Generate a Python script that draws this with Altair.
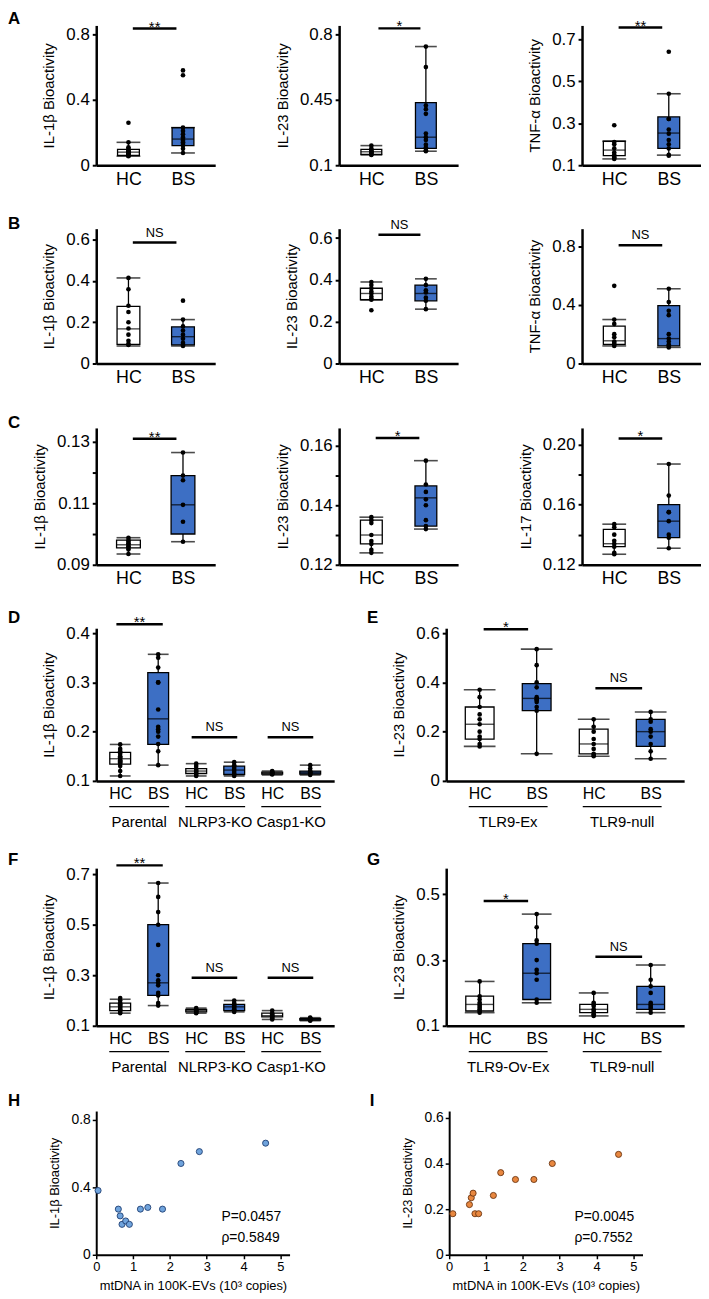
import json
import altair as alt
import pandas as pd

FONT = "Liberation Sans"
BLUE = "#3d6fc4"
WHITE = "#ffffff"

# box = [lower whisker, Q1, median, Q3, upper whisker]
# ---------------- Panel A ----------------
A1_HC_box = [0.055, 0.060, 0.080, 0.097, 0.140]
A1_HC_pts = [0.26, 0.14, 0.11, 0.10, 0.09, 0.085, 0.08, 0.075, 0.07, 0.065, 0.06, 0.058, 0.055]
A1_BS_box = [0.075, 0.120, 0.160, 0.230, 0.230]
A1_BS_pts = [0.58, 0.55, 0.23, 0.21, 0.19, 0.17, 0.16, 0.15, 0.14, 0.13, 0.12, 0.10, 0.075]

A2_HC_box = [0.155, 0.158, 0.172, 0.185, 0.205]
A2_HC_pts = [0.205, 0.19, 0.18, 0.175, 0.17, 0.165, 0.16, 0.158, 0.155]
A2_BS_box = [0.175, 0.190, 0.250, 0.435, 0.735]
A2_BS_pts = [0.735, 0.625, 0.42, 0.40, 0.375, 0.27, 0.25, 0.235, 0.21, 0.195, 0.18, 0.175]

A3_HC_box = [0.130, 0.146, 0.172, 0.214, 0.214]
A3_HC_pts = [0.29, 0.21, 0.20, 0.18, 0.16, 0.15, 0.14, 0.135, 0.13]
A3_BS_box = [0.148, 0.180, 0.253, 0.330, 0.440]
A3_BS_pts = [0.64, 0.44, 0.32, 0.32, 0.27, 0.25, 0.22, 0.20, 0.18, 0.15, 0.145]

# ---------------- Panel B ----------------
B1_HC_box = [0.085, 0.093, 0.168, 0.277, 0.415]
B1_HC_pts = [0.415, 0.36, 0.28, 0.25, 0.20, 0.17, 0.14, 0.11, 0.095, 0.09]
B1_BS_box = [0.085, 0.090, 0.130, 0.178, 0.213]
B1_BS_pts = [0.305, 0.213, 0.18, 0.16, 0.14, 0.12, 0.10, 0.09, 0.085]

B2_HC_box = [0.305, 0.305, 0.335, 0.360, 0.390]
B2_HC_pts = [0.39, 0.375, 0.36, 0.345, 0.335, 0.32, 0.31, 0.305, 0.255]
B2_BS_box = [0.260, 0.300, 0.335, 0.375, 0.405]
B2_BS_pts = [0.405, 0.375, 0.35, 0.34, 0.315, 0.30, 0.26]

B3_HC_box = [0.120, 0.130, 0.155, 0.255, 0.300]
B3_HC_pts = [0.53, 0.30, 0.27, 0.20, 0.18, 0.15, 0.14, 0.13, 0.12]
B3_BS_box = [0.110, 0.120, 0.170, 0.395, 0.510]
B3_BS_pts = [0.51, 0.42, 0.36, 0.33, 0.20, 0.17, 0.15, 0.13, 0.12, 0.11]

# ---------------- Panel C ----------------
C1_HC_box = [0.0935, 0.0955, 0.0965, 0.0980, 0.0988]
C1_HC_pts = [0.0988, 0.098, 0.0975, 0.097, 0.0965, 0.096, 0.0955, 0.095, 0.0935]
C1_BS_box = [0.0975, 0.1000, 0.1095, 0.1190, 0.1265]
C1_BS_pts = [0.1265, 0.119, 0.1175, 0.1095, 0.104, 0.0975]

C2_HC_box = [0.124, 0.127, 0.130, 0.135, 0.136]
C2_HC_pts = [0.136, 0.135, 0.134, 0.130, 0.128, 0.127, 0.125, 0.124]
C2_BS_box = [0.132, 0.133, 0.1425, 0.1465, 0.155]
C2_BS_pts = [0.155, 0.147, 0.1445, 0.142, 0.140, 0.135, 0.133, 0.132]

C3_HC_box = [0.127, 0.132, 0.134, 0.1435, 0.147]
C3_HC_pts = [0.147, 0.145, 0.140, 0.136, 0.134, 0.132, 0.128, 0.127]
C3_BS_box = [0.131, 0.138, 0.149, 0.160, 0.187]
C3_BS_pts = [0.187, 0.166, 0.155, 0.155, 0.149, 0.140, 0.138, 0.131]

# ---------------- Panel D ----------------
D_groups = ["Parental", "NLRP3-KO", "Casp1-KO"]
D_box = [
    [0.110, 0.134, 0.145, 0.158, 0.174],
    [0.132, 0.174, 0.226, 0.320, 0.357],
    [0.110, 0.115, 0.120, 0.125, 0.135],
    [0.110, 0.113, 0.122, 0.130, 0.138],
    [0.112, 0.114, 0.116, 0.118, 0.120],
    [0.112, 0.114, 0.117, 0.120, 0.132],
]
D_pts = [
    [0.174, 0.165, 0.16, 0.155, 0.15, 0.148, 0.145, 0.142, 0.14, 0.138, 0.135, 0.13, 0.12, 0.11],
    [0.357, 0.35, 0.33, 0.30, 0.30, 0.245, 0.21, 0.205, 0.20, 0.19, 0.175, 0.16, 0.132],
    [0.135, 0.13, 0.125, 0.122, 0.12, 0.118, 0.115, 0.112, 0.11],
    [0.138, 0.132, 0.128, 0.124, 0.12, 0.116, 0.113, 0.11],
    [0.12, 0.118, 0.117, 0.116, 0.115, 0.114, 0.113],
    [0.132, 0.125, 0.12, 0.118, 0.117, 0.116, 0.114, 0.112],
]

# ---------------- Panel E ----------------
E_groups = ["TLR9-Ex", "TLR9-null"]
E_box = [
    [0.140, 0.170, 0.230, 0.300, 0.370],
    [0.110, 0.285, 0.335, 0.395, 0.535],
    [0.100, 0.110, 0.150, 0.210, 0.250],
    [0.090, 0.140, 0.200, 0.250, 0.280],
]
E_pts = [
    [0.37, 0.34, 0.30, 0.27, 0.25, 0.23, 0.20, 0.18, 0.17, 0.15, 0.14],
    [0.535, 0.47, 0.40, 0.38, 0.34, 0.33, 0.33, 0.32, 0.30, 0.285, 0.11],
    [0.25, 0.22, 0.20, 0.17, 0.15, 0.13, 0.11, 0.105, 0.10],
    [0.28, 0.25, 0.24, 0.21, 0.20, 0.18, 0.15, 0.12, 0.09],
]

# ---------------- Panel F ----------------
F_groups = ["Parental", "NLRP3-KO", "Casp1-KO"]
F_box = [
    [0.150, 0.160, 0.175, 0.190, 0.205],
    [0.180, 0.220, 0.270, 0.500, 0.665],
    [0.150, 0.155, 0.160, 0.165, 0.170],
    [0.155, 0.160, 0.175, 0.185, 0.200],
    [0.125, 0.135, 0.140, 0.150, 0.160],
    [0.120, 0.122, 0.125, 0.128, 0.132],
]
F_pts = [
    [0.21, 0.20, 0.19, 0.185, 0.18, 0.175, 0.17, 0.165, 0.16, 0.155, 0.15],
    [0.665, 0.61, 0.55, 0.50, 0.42, 0.30, 0.28, 0.27, 0.26, 0.23, 0.22, 0.19, 0.18],
    [0.17, 0.165, 0.162, 0.16, 0.158, 0.155, 0.152, 0.15],
    [0.20, 0.19, 0.185, 0.18, 0.175, 0.17, 0.165, 0.16, 0.155],
    [0.16, 0.15, 0.145, 0.14, 0.138, 0.135, 0.13, 0.125],
    [0.132, 0.13, 0.128, 0.126, 0.125, 0.124, 0.122, 0.12],
]

# ---------------- Panel G ----------------
G_groups = ["TLR9-Ov-Ex", "TLR9-null"]
G_box = [
    [0.140, 0.145, 0.165, 0.190, 0.235],
    [0.170, 0.180, 0.260, 0.350, 0.440],
    [0.130, 0.140, 0.150, 0.165, 0.200],
    [0.140, 0.150, 0.165, 0.220, 0.285],
]
G_pts = [
    [0.235, 0.19, 0.18, 0.17, 0.165, 0.16, 0.155, 0.15, 0.145, 0.14],
    [0.44, 0.40, 0.36, 0.35, 0.30, 0.27, 0.26, 0.24, 0.18, 0.17],
    [0.20, 0.17, 0.165, 0.16, 0.15, 0.145, 0.14, 0.135, 0.13],
    [0.285, 0.24, 0.22, 0.20, 0.17, 0.165, 0.16, 0.155, 0.15, 0.14],
]

# ---------------- Panels H / I ----------------
H_x = [0.05, 0.60, 0.65, 0.70, 0.80, 0.90, 1.20, 1.40, 1.80, 2.30, 2.80, 4.60]
H_y = [0.38, 0.27, 0.23, 0.18, 0.20, 0.18, 0.27, 0.28, 0.27, 0.54, 0.61, 0.66]
I_x = [0.10, 0.55, 0.60, 0.65, 0.70, 0.80, 1.20, 1.40, 1.80, 2.30, 2.80, 4.60]
I_y = [0.18, 0.22, 0.25, 0.27, 0.18, 0.18, 0.26, 0.36, 0.33, 0.33, 0.40, 0.44]
H_stats = ["P=0.0457", "ρ=0.5849"]
I_stats = ["P=0.0045", "ρ=0.7552"]


def lab_expr(vals, labs):
    return f"{json.dumps(labs)}[indexof({json.dumps(vals)}, datum.value)]"


def letter_layer(letter, lxy):
    return alt.Chart(pd.DataFrame({"t": [letter]})).mark_text(
        fontSize=17, fontWeight="bold", align="left", baseline="middle", color="black").encode(
        x=alt.value(lxy[0]), y=alt.value(lxy[1]), text="t:N")


def box_panel(boxes, pts, fills, ydom, yvals, ylabs, ytitle, sigs, w, h,
              box_w, cap_w, xfs, letter=None, lxy=(-89, -9), groups=None):
    n = len(boxes)
    unit = w / n
    sdf = pd.DataFrame({
        "i": list(range(n)),
        "lo": [b[0] for b in boxes], "q1": [b[1] for b in boxes],
        "med": [b[2] for b in boxes], "q3": [b[3] for b in boxes],
        "hi": [b[4] for b in boxes], "fill": fills})
    pdf = pd.DataFrame({"i": [k for k, p in enumerate(pts) for _ in p],
                        "v": [v for p in pts for v in p]})
    xs = alt.Scale(domain=[-0.5, n - 0.5], nice=False, zero=False)
    ys = alt.Scale(domain=ydom, nice=False, zero=False)
    xax = alt.Axis(values=list(range(n)),
                   labelExpr="datum.value % 2 == 0 ? 'HC' : 'BS'",
                   ticks=False, grid=False, labelFontSize=xfs, labelPadding=5,
                   domainWidth=2.5, labelAngle=0, labelFlush=False)
    yax = alt.Axis(values=yvals, labelExpr=lab_expr(yvals, ylabs), grid=False,
                   labelFontSize=17, tickSize=4, tickWidth=2, domainWidth=2.5,
                   labelPadding=3, titleFontSize=15, titleFontWeight="normal",
                   titlePadding=9)

    def X(f):
        return alt.X(f, type="quantitative", scale=xs, axis=xax, title=None)

    def Y(f):
        return alt.Y(f, type="quantitative", scale=ys, axis=yax, title=ytitle)

    layers = []
    layers.append(alt.Chart(sdf).mark_rule(color="black", strokeWidth=1.3)
                  .encode(x=X("i"), y=Y("lo"), y2="hi"))
    layers.append(alt.Chart(sdf).mark_bar(size=box_w, stroke="black", strokeWidth=1.3)
                  .encode(x=X("i"), y=Y("q1"), y2="q3", fill=alt.Fill("fill:N", scale=None)))
    layers.append(alt.Chart(sdf).mark_tick(orient="horizontal", size=box_w, thickness=1.4, color="black")
                  .encode(x=X("i"), y=Y("med")))
    for f in ["lo", "hi"]:
        layers.append(alt.Chart(sdf).mark_tick(orient="horizontal", size=cap_w, thickness=1.6, color="black")
                      .encode(x=X("i"), y=Y(f)))
    layers.append(alt.Chart(pdf).mark_circle(size=22, color="black", opacity=1)
                  .encode(x=X("i"), y=Y("v")))

    sg = pd.DataFrame({"x1": [s[0] for s in sigs], "x2": [s[1] for s in sigs],
                       "y": [s[2] for s in sigs], "t": [s[3] for s in sigs]})
    sg["xm"] = (sg["x1"] + sg["x2"]) / 2
    layers.append(alt.Chart(sg).mark_rule(color="black", strokeWidth=2.4)
                  .encode(x=X("x1"), x2="x2", y=Y("y")))
    stars = sg[sg["t"] != "NS"]
    ns = sg[sg["t"] == "NS"]
    if len(stars):
        layers.append(alt.Chart(stars).mark_text(fontSize=15, baseline="alphabetic", dy=3, color="black")
                      .encode(x=X("xm"), y=Y("y"), text="t:N"))
    if len(ns):
        layers.append(alt.Chart(ns).mark_text(fontSize=13, baseline="alphabetic", dy=-6, color="black")
                      .encode(x=X("xm"), y=Y("y"), text="t:N"))

    if groups:
        half = 0.5 + 11.5 / unit
        gd = pd.DataFrame({"g": groups, "gx": [2 * k + 0.5 for k in range(len(groups))]})
        gd["u1"] = gd["gx"] - half
        gd["u2"] = gd["gx"] + half
        layers.append(alt.Chart(gd).mark_rule(color="black", strokeWidth=1.2)
                      .encode(x=X("u1"), x2="u2", y=alt.value(h + 26)))
        layers.append(alt.Chart(gd).mark_text(fontSize=15, baseline="middle", color="black")
                      .encode(x=X("gx"), y=alt.value(h + 42), text="g:N"))
    if letter:
        layers.append(letter_layer(letter, lxy))
    return alt.layer(*layers).properties(width=w, height=h)


def scatter_panel(xv, yv, fill, stroke, ydom, yvals, ylabs, ytitle, stats, w, h, letter, lxy):
    df = pd.DataFrame({"x": xv, "y": yv})
    xs = alt.Scale(domain=[0, 5.25], nice=False, zero=False)
    ys = alt.Scale(domain=ydom, nice=False, zero=False)
    xax = alt.Axis(values=[0, 1, 2, 3, 4, 5], grid=False, labelFontSize=13, tickSize=4,
                   tickWidth=1.5, domainWidth=2, titleFontSize=13, titleFontWeight="normal",
                   titlePadding=6, labelFlush=False)
    yax = alt.Axis(values=yvals, labelExpr=lab_expr(yvals, ylabs), grid=False,
                   labelFontSize=14, tickSize=4, tickWidth=1.5, domainWidth=2,
                   titleFontSize=13, titleFontWeight="normal", titlePadding=10)
    xt = "mtDNA in 100K-EVs (10³ copies)"

    def X(f):
        return alt.X(f, type="quantitative", scale=xs, axis=xax, title=xt)

    def Y(f):
        return alt.Y(f, type="quantitative", scale=ys, axis=yax, title=ytitle)

    pts = alt.Chart(df).mark_point(filled=True, size=38, fill=fill, stroke=stroke,
                                   strokeWidth=0.9, opacity=1).encode(x=X("x"), y=Y("y"))
    top = ydom[1]
    td = pd.DataFrame({"t": stats, "tx": [3.4, 3.4], "ty": [0.26 * top, 0.12 * top]})
    txt = alt.Chart(td).mark_text(fontSize=14, align="left", baseline="middle", color="black").encode(
        x=X("tx"), y=Y("ty"), text="t:N")
    return alt.layer(pts, txt, letter_layer(letter, lxy)).properties(width=w, height=h)


def spacer(hgt):
    return alt.Chart(pd.DataFrame({"s": [0]})).mark_point(opacity=0).encode(
        x=alt.value(0), y=alt.value(0)).properties(width=1, height=hgt)


HB = [WHITE, BLUE]

A1 = box_panel([A1_HC_box, A1_BS_box], [A1_HC_pts, A1_BS_pts], HB, [0, 0.855], [0, 0.4, 0.8],
               ["0", "0.4", "0.8"], "IL-1β Bioactivity", [(0.08, 0.88, 0.836, "**")],
               120, 141, 22, 24, 18, letter="A", lxy=(-89, -6))
A2 = box_panel([A2_HC_box, A2_BS_box], [A2_HC_pts, A2_BS_pts], HB, [0.1, 0.848], [0.1, 0.45, 0.8],
               ["0.1", "0.45", "0.8"], "IL-23 Bioactivity", [(0.13, 0.9, 0.832, "*")],
               120, 141, 21, 22, 18)
A3 = box_panel([A3_HC_box, A3_BS_box], [A3_HC_pts, A3_BS_pts], HB, [0.1, 0.765], [0.1, 0.3, 0.5, 0.7],
               ["0.1", "0.3", "0.5", "0.7"], "TNF-α Bioactivity", [(0.08, 0.88, 0.755, "**")],
               120, 141, 22, 24, 18)

B1 = box_panel([B1_HC_box, B1_BS_box], [B1_HC_pts, B1_BS_pts], HB, [0, 0.654], [0, 0.2, 0.4, 0.6],
               ["0", "0.2", "0.4", "0.6"], "IL-1β Bioactivity", [(0.08, 0.88, 0.587, "NS")],
               120, 136, 23, 24, 18, letter="B", lxy=(-89, -5))
B2 = box_panel([B2_HC_box, B2_BS_box], [B2_HC_pts, B2_BS_pts], HB, [0, 0.645], [0, 0.2, 0.4, 0.6],
               ["0", "0.2", "0.4", "0.6"], "IL-23 Bioactivity", [(0.13, 0.9, 0.616, "NS")],
               120, 136, 22, 22, 18)
B3 = box_panel([B3_HC_box, B3_BS_box], [B3_HC_pts, B3_BS_pts], HB, [0, 0.92], [0, 0.4, 0.8],
               ["0", "0.4", "0.8"], "TNF-α Bioactivity", [(0.08, 0.88, 0.807, "NS")],
               120, 136, 22, 24, 18)

C1 = box_panel([C1_HC_box, C1_BS_box], [C1_HC_pts, C1_BS_pts], HB, [0.09, 0.1345],
               [0.09, 0.10, 0.11, 0.12, 0.13], ["0.09", "", "0.11", "", "0.13"],
               "IL-1β Bioactivity", [(0.08, 0.88, 0.131, "**")],
               120, 138, 24, 24, 18, letter="C", lxy=(-89, -5))
C2 = box_panel([C2_HC_box, C2_BS_box], [C2_HC_pts, C2_BS_pts], HB, [0.12, 0.166],
               [0.12, 0.13, 0.14, 0.15, 0.16], ["0.12", "", "0.14", "", "0.16"],
               "IL-23 Bioactivity", [(0.08, 0.88, 0.1626, "*")],
               120, 138, 22, 24, 18)
C3 = box_panel([C3_HC_box, C3_BS_box], [C3_HC_pts, C3_BS_pts], HB, [0.12, 0.211],
               [0.12, 0.14, 0.16, 0.18, 0.20], ["0.12", "", "0.16", "", "0.20"],
               "IL-17 Bioactivity", [(0.08, 0.88, 0.204, "*")],
               120, 138, 22, 24, 18)

D = box_panel(D_box, D_pts, HB * 3, [0.1, 0.41], [0.1, 0.2, 0.3, 0.4], ["0.1", "0.2", "0.3", "0.4"],
              "IL-1β Bioactivity",
              [(-0.1, 1.12, 0.418, "**"), (1.88, 3.08, 0.1885, "NS"), (3.88, 5.08, 0.1885, "NS")],
              240, 154, 21, 21, 16, letter="D", lxy=(-89, -10), groups=D_groups)
E = box_panel(E_box, E_pts, HB * 2, [0, 0.62], [0, 0.2, 0.4, 0.6], ["0", "0.2", "0.4", "0.6"],
              "IL-23 Bioactivity",
              [(0.07, 0.85, 0.616, "*"), (2.03, 2.85, 0.376, "NS")],
              240, 154, 29, 32, 16, letter="E", lxy=(-80, -10), groups=E_groups)

F = box_panel(F_box, F_pts, HB * 3, [0.1, 0.724], [0.1, 0.3, 0.5, 0.7], ["0.1", "0.3", "0.5", "0.7"],
              "IL-1β Bioactivity",
              [(-0.1, 1.12, 0.735, "**"), (1.88, 3.08, 0.29, "NS"), (3.88, 5.08, 0.29, "NS")],
              240, 159, 21, 21, 16, letter="F", lxy=(-89, -8), groups=F_groups)
G = box_panel(G_box, G_pts, HB * 2, [0.1, 0.58], [0.1, 0.3, 0.5], ["0.1", "0.3", "0.5"],
              "IL-23 Bioactivity",
              [(0.07, 0.85, 0.48, "*"), (2.03, 2.85, 0.31, "NS")],
              240, 159, 28, 30, 16, letter="G", lxy=(-80, -8), groups=G_groups)

H = scatter_panel(H_x, H_y, "#6fa3dc", "#1f3f73", [0, 0.85], [0, 0.4, 0.8], ["0", "0.4", "0.8"],
                  "IL-1β Bioactivity", H_stats, 195, 145, "H", (-89, -10))
I = scatter_panel(I_x, I_y, "#e8873f", "#6b3410", [0, 0.63], [0, 0.2, 0.4, 0.6], ["0", "0.2", "0.4", "0.6"],
                  "IL-23 Bioactivity", I_stats, 195, 145, "I", (-80, -10))

rowA = alt.hconcat(A1, A2, A3, spacing=125, bounds="flush")
rowB = alt.hconcat(B1, B2, B3, spacing=125, bounds="flush")
rowC = alt.hconcat(C1, C2, C3, spacing=125, bounds="flush")
rowD = alt.hconcat(D, E, spacing=113, bounds="flush")
rowF = alt.hconcat(F, G, spacing=113, bounds="flush")
rowH = alt.hconcat(H, I, spacing=161, bounds="flush")

# nested rows count as zero height in a flush layout, so each spacer = row height + gap
chart = alt.vconcat(rowA, spacer(141 + 64), rowB, spacer(136 + 65), rowC, spacer(138 + 64),
                    rowD, spacer(154 + 88), rowF, spacer(159 + 86), rowH,
                    spacing=0, bounds="flush").properties(
    padding={"left": 0, "top": -3, "right": 0, "bottom": 0}).configure_view(
    stroke=None).configure_axis(labelFont=FONT, titleFont=FONT, labelColor="black",
                                titleColor="black", domainColor="black", tickColor="black").configure_text(
    font=FONT)

chart.save("out.html", embed_options={"renderer": "svg", "actions": False})
